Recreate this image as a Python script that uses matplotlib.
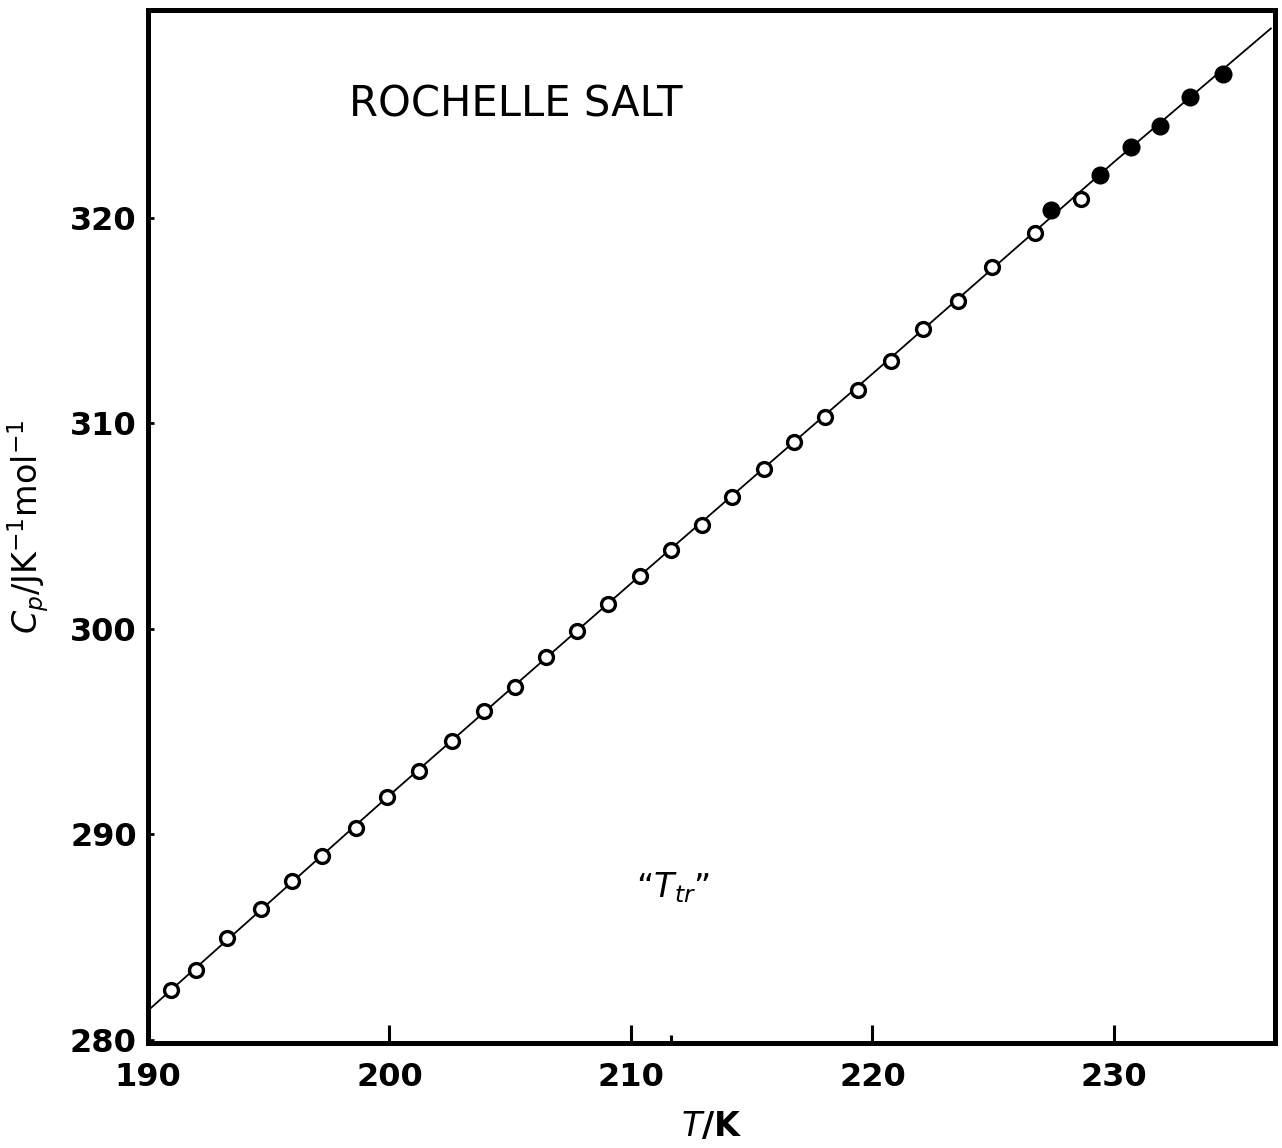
import matplotlib.pyplot as plt

# heat capacity of Rochelle salt below the upper transition
T_open = [190.95, 191.99, 193.27, 194.68, 195.96, 197.20, 198.61, 199.90,
          201.22, 202.59, 203.91, 205.20, 206.48, 207.76, 209.05, 210.37,
          211.66, 212.94, 214.18, 215.51, 216.75, 218.03, 219.40, 220.77,
          222.09, 223.54, 224.95, 226.73, 228.63]
Cp_open = [282.43, 283.40, 284.96, 286.37, 287.74, 288.95, 290.32, 291.80,
           293.09, 294.55, 296.00, 297.18, 298.64, 299.90, 301.22, 302.58,
           303.84, 305.06, 306.42, 307.79, 309.10, 310.32, 311.63, 313.04,
           314.60, 315.96, 317.62, 319.27, 320.92]

T_fill = [227.39, 229.42, 230.70, 231.90, 233.15, 234.52]
Cp_fill = [320.39, 322.09, 323.45, 324.47, 325.89, 327.00]

# smoothed curve through the points
T_curve = [189.5, 200.0, 210.0, 220.0, 230.0, 236.5]
Cp_curve = [280.9, 291.9, 302.2, 312.4, 322.7, 329.2]

T_tr = 211.65

plt.rcParams['font.family'] = 'DejaVu Sans'
plt.rcParams['mathtext.fontset'] = 'dejavusans'

fig = plt.figure(figsize=(12.82, 11.48), dpi=100)
ax = fig.add_axes([0.1154, 0.0915, 0.8791, 0.8998])

ax.plot(T_curve, Cp_curve, color='black', lw=1.3, zorder=1)
ax.plot(T_open, Cp_open, 'o', ms=10, mfc='white', mec='black', mew=2.4, zorder=2)
ax.plot(T_fill, Cp_fill, 'o', ms=11, mfc='black', mec='black', mew=2.0, zorder=2)

ax.set_xlim(190, 236.67)
ax.set_ylim(279.85, 330.1)

ax.set_xticks([190, 200, 210, 220, 230])
ax.set_yticks([280, 290, 300, 310, 320])
ax.set_xticks([T_tr], minor=True)
ax.tick_params(axis='x', which='major', direction='in', length=13, width=2.2,
               labelsize=23, pad=14)
ax.tick_params(axis='x', which='minor', direction='in', length=6, width=2.2)
ax.tick_params(axis='y', direction='in', length=4, width=2.0, labelsize=23, pad=8)
for lab in ax.get_xticklabels() + ax.get_yticklabels():
    lab.set_fontweight('bold')

for s in ax.spines.values():
    s.set_linewidth(3.6)

ax.set_xlabel(r'$T$/K', fontsize=24, fontweight='bold', labelpad=12)
ax.set_ylabel(r'$C_p$/JK$^{-1}$mol$^{-1}$', fontsize=24, labelpad=14)

ax.text(205.25, 325.5, 'ROCHELLE SALT', fontsize=30, ha='center', va='center')
ax.text(T_tr + 0.1, 287.4, '\u201c$\\mathbf{\\mathit{T}}_{tr}$\u201d', fontsize=24,
        ha='center', va='center', fontweight='bold')

fig.savefig('out.png', dpi=100)
